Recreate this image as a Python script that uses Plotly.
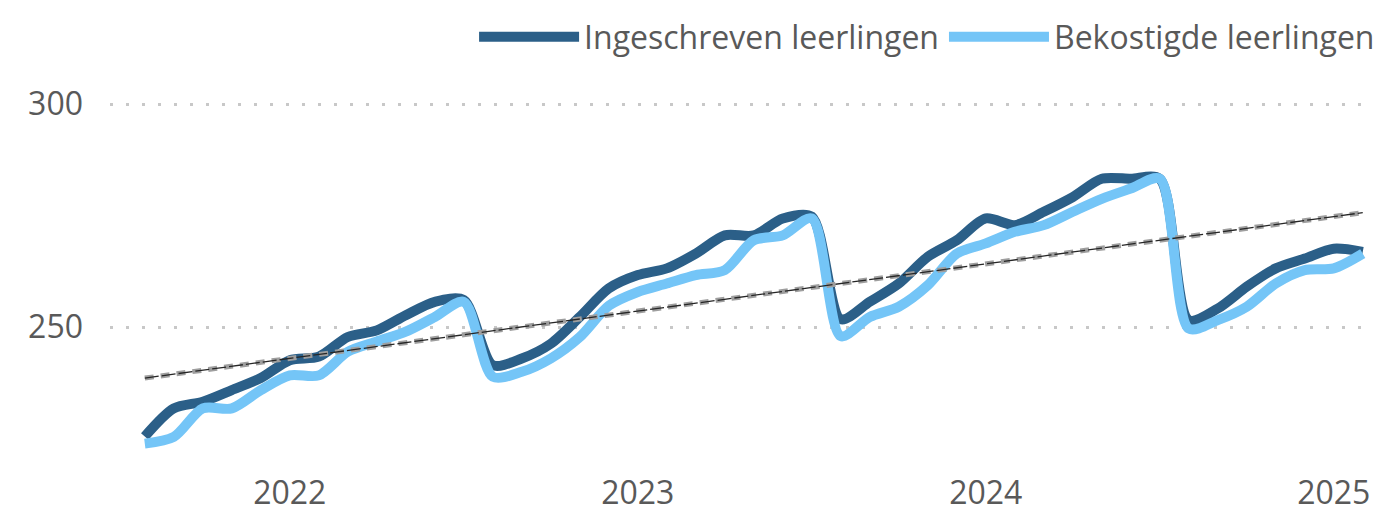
import plotly.graph_objects as go

# Month categories (Aug 2021 .. Feb 2025)
months = [
    "2021-08", "2021-09", "2021-10", "2021-11", "2021-12",
    "2022-01", "2022-02", "2022-03", "2022-04", "2022-05", "2022-06", "2022-07",
    "2022-08", "2022-09", "2022-10", "2022-11", "2022-12",
    "2023-01", "2023-02", "2023-03", "2023-04", "2023-05", "2023-06", "2023-07",
    "2023-08", "2023-09", "2023-10", "2023-11", "2023-12",
    "2024-01", "2024-02", "2024-03", "2024-04", "2024-05", "2024-06", "2024-07",
    "2024-08", "2024-09", "2024-10", "2024-11", "2024-12",
    "2025-01", "2025-02",
]

ingeschreven = [
    225.5, 231.8, 233.3, 235.9, 238.6,
    242.6, 243.4, 247.8, 249.3, 252.7, 255.7, 256.1,
    241.5, 243.0, 246.3, 252.3, 258.7,
    261.7, 263.2, 266.5, 270.6, 270.6, 274.4, 274.8,
    251.8, 255.7, 259.8, 265.8, 269.5,
    274.4, 272.9, 275.9, 279.2, 283.3, 283.3, 283.3,
    251.6, 254.2, 259.1, 263.2, 265.4,
    267.6, 266.9,
]

bekostigd = [
    223.9, 225.4, 231.8, 231.8, 235.9,
    239.2, 239.2, 244.5, 246.8, 249.0, 252.3, 255.7,
    238.9, 240.0, 243.0, 247.8, 254.8,
    257.9, 259.8, 261.7, 262.8, 269.5, 270.6, 274.4,
    248.0, 252.3, 254.6, 259.4, 266.5,
    268.8, 271.4, 272.9, 275.9, 278.8, 281.1, 283.3,
    249.7, 251.6, 254.6, 259.8, 262.8,
    263.2, 266.5,
]

# Linear trend lines (values read at first and last month)
trend_months = ["2021-08", "2025-02"]
trend_ingeschreven = [238.6, 275.7]
trend_bekostigd = [238.6, 275.7]

tick_months = ["2022-01", "2023-01", "2024-01", "2025-01"]
tick_labels = ["2022", "2023", "2024", "2025"]

DARK = "#2B5F88"
LIGHT = "#74C5F7"
TEXT = "#595959"
FONT = "Open Sans"

fig = go.Figure()
fig.add_trace(go.Scatter(
    x=months, y=ingeschreven, name="Ingeschreven leerlingen", mode="lines",
    line=dict(color=DARK, width=10, shape="spline", smoothing=0.8),
))
fig.add_trace(go.Scatter(
    x=months, y=bekostigd, name="Bekostigde leerlingen", mode="lines",
    line=dict(color=LIGHT, width=10, shape="spline", smoothing=0.8),
))
fig.add_trace(go.Scatter(
    x=trend_months, y=trend_ingeschreven, mode="lines", showlegend=False,
    line=dict(color="#9E9E9E", width=5, dash="9px,7px"), hoverinfo="skip",
))
fig.add_trace(go.Scatter(
    x=trend_months, y=trend_bekostigd, mode="lines", showlegend=False,
    line=dict(color="#262626", width=1.3, dash="14px,3px"), hoverinfo="skip",
))

# The page body adds an 8px margin; the figure is offset accordingly.
fig.update_layout(
    width=1373, height=504,
    margin=dict(l=102, r=11, t=74, b=51, autoexpand=False),
    paper_bgcolor="white", plot_bgcolor="white",
    font=dict(family=FONT, size=32, color=TEXT),
    legend=dict(
        orientation="h", x=1.008, xanchor="right", y=1.119, yanchor="middle",
        font=dict(size=32, color=TEXT), itemwidth=100, tracegroupgap=0,
        bgcolor="rgba(0,0,0,0)",
    ),
    showlegend=True,
)
fig.update_xaxes(
    type="category", categoryorder="array", categoryarray=months,
    range=[-1.2, 42.25], tickmode="array", tickvals=tick_months, ticktext=tick_labels,
    showgrid=False, zeroline=False, showline=False, ticks="", ticklabelstandoff=10,
    tickfont=dict(size=32, color=TEXT, family=FONT), automargin=False,
)
fig.update_yaxes(
    range=[220, 305], tickmode="array", tickvals=[250, 300],
    showgrid=True, gridcolor="#C8C8C8", gridwidth=3, griddash="3px,13px",
    zeroline=False, showline=False, ticks="", ticklabelstandoff=26,
    tickfont=dict(size=32, color=TEXT, family=FONT), automargin=False,
)

fig.write_html("out.html")
